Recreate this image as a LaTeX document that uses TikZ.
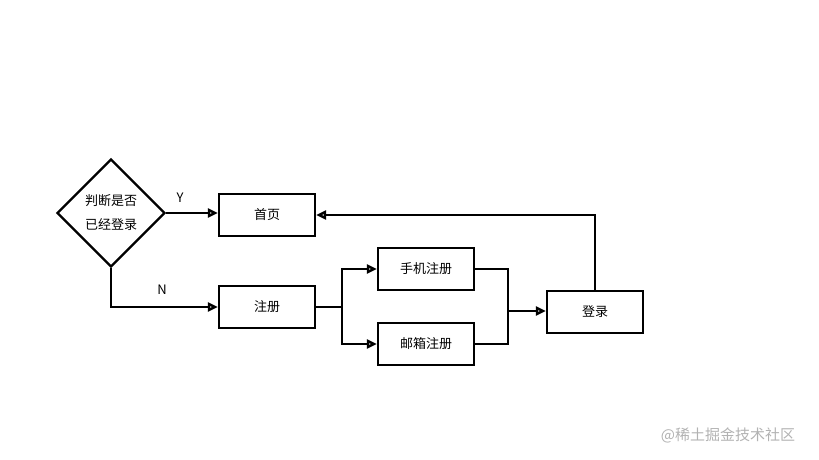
\documentclass[tikz,border=0pt]{standalone}
\usepackage{fontspec}
\setmainfont{Noto Sans CJK SC}
\usetikzlibrary{shapes.geometric,arrows.meta}
\begin{document}
\begin{tikzpicture}[x=1pt,y=-1pt,
  box/.style={draw,line width=2.4pt,minimum width=96pt,minimum height=42pt,inner sep=0pt,font=\fontsize{13}{15}\selectfont},
  dec/.style={draw,diamond,line width=2.4pt,minimum width=108pt,minimum height=108pt,inner sep=0pt,align=center,font=\fontsize{13}{24}\selectfont},
  link/.style={line width=2.4pt,-{Stealth[length=10pt,width=9pt,inset=0pt,open]}},
  plain/.style={line width=2.4pt},
  lab/.style={font=\fontsize{13}{15}\selectfont}]
\useasboundingbox (0,0) rectangle (819,460);
\node[dec] (d) at (111,213) {判断是否\\已经登录};
\node[box] (home) at (267,215) {首页};
\node[box] (reg) at (267,307) {注册};
\node[box] (phone) at (426,269) {手机注册};
\node[box] (mail) at (426,344) {邮箱注册};
\node[box] (login) at (595,312) {登录};
\coordinate (s1) at (342,307);
\coordinate (j1) at (508,311);
\draw[link] (d.east) -- (home.west |- d.east);
\node[lab] at (180,198) {Y};
\draw[link] (d.south) |- (reg.west);
\node[lab] at (162,290) {N};
\draw[plain] (reg.east) -- (s1);
\draw[link] (s1) |- (phone.west);
\draw[link] (s1) |- (mail.west);
\draw[plain] (phone.east) -| (j1);
\draw[plain] (mail.east) -| (j1);
\draw[link] (j1) -- (login.west |- j1);
\draw[link] (login.north) |- (home.east);
\node[text=gray!60,font=\fontsize{15}{17}\selectfont] (wm) at (728,435) {@稀土掘金技术社区};
\end{tikzpicture}
\end{document}
